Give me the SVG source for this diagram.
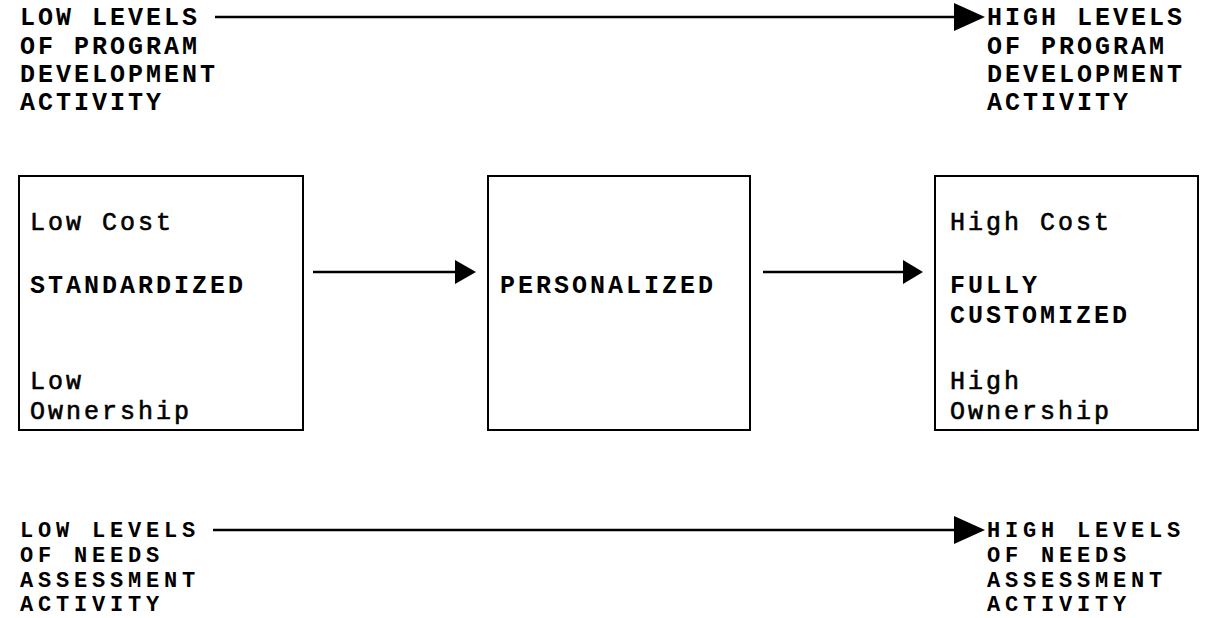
<svg xmlns="http://www.w3.org/2000/svg" width="1211" height="618" viewBox="0 0 1211 618">
<style>
text{font-family:"Liberation Mono","Courier New",monospace;font-size:25px;letter-spacing:3px;fill:#000}
.b{font-weight:bold}
.s{font-size:22px;letter-spacing:4.8px}
.r{stroke:#000;stroke-width:0.6}
.box{fill:none;stroke:#000;stroke-width:2}
.ln{stroke:#000;stroke-width:2.5;fill:none}
</style>
<rect width="1211" height="618" fill="#fff"/>
<g id="label-top-left">
<text class="b" x="20" y="25">LOW LEVELS</text>
<text class="b" x="20" y="54">OF PROGRAM</text>
<text class="b" x="20" y="82">DEVELOPMENT</text>
<text class="b" x="20" y="110">ACTIVITY</text>
</g>
<g id="label-top-right">
<text class="b" x="987" y="25">HIGH LEVELS</text>
<text class="b" x="987" y="54">OF PROGRAM</text>
<text class="b" x="987" y="82">DEVELOPMENT</text>
<text class="b" x="987" y="110">ACTIVITY</text>
</g>
<g id="node-standardized">
<rect class="box" x="19" y="176" width="284" height="254"/>
<text class="r" x="30" y="230">Low Cost</text>
<text class="b" x="30" y="293">STANDARDIZED</text>
<text class="r" x="30" y="389">Low</text>
<text class="r" x="30" y="419">Ownership</text>
</g>
<g id="node-personalized">
<rect class="box" x="488" y="176" width="262" height="254"/>
<text class="b" x="500" y="293">PERSONALIZED</text>
</g>
<g id="node-customized">
<rect class="box" x="935" y="176" width="263" height="254"/>
<text class="r" x="950" y="230">High Cost</text>
<text class="b" x="950" y="293">FULLY</text>
<text class="b" x="950" y="323">CUSTOMIZED</text>
<text class="r" x="950" y="389">High</text>
<text class="r" x="950" y="419">Ownership</text>
</g>
<g id="label-bottom-left">
<text class="b s" x="20" y="537">LOW LEVELS</text>
<text class="b s" x="20" y="562">OF NEEDS</text>
<text class="b s" x="20" y="587">ASSESSMENT</text>
<text class="b s" x="20" y="611">ACTIVITY</text>
</g>
<g id="label-bottom-right">
<text class="b s" x="987" y="537">HIGH LEVELS</text>
<text class="b s" x="987" y="562">OF NEEDS</text>
<text class="b s" x="987" y="587">ASSESSMENT</text>
<text class="b s" x="987" y="611">ACTIVITY</text>
</g>
<g id="connectors">
<line class="ln" x1="215" y1="17" x2="960" y2="17"/>
<path d="M954,3 L985,17 L954,31 Z"/>
<line class="ln" x1="313" y1="272" x2="458" y2="272"/>
<path d="M455,260 L476,272 L455,284 Z"/>
<line class="ln" x1="763" y1="272" x2="905" y2="272"/>
<path d="M903,260 L923,272 L903,284 Z"/>
<line class="ln" x1="213" y1="530" x2="960" y2="530"/>
<path d="M954,516 L985,530 L954,544 Z"/>
</g>
</svg>
